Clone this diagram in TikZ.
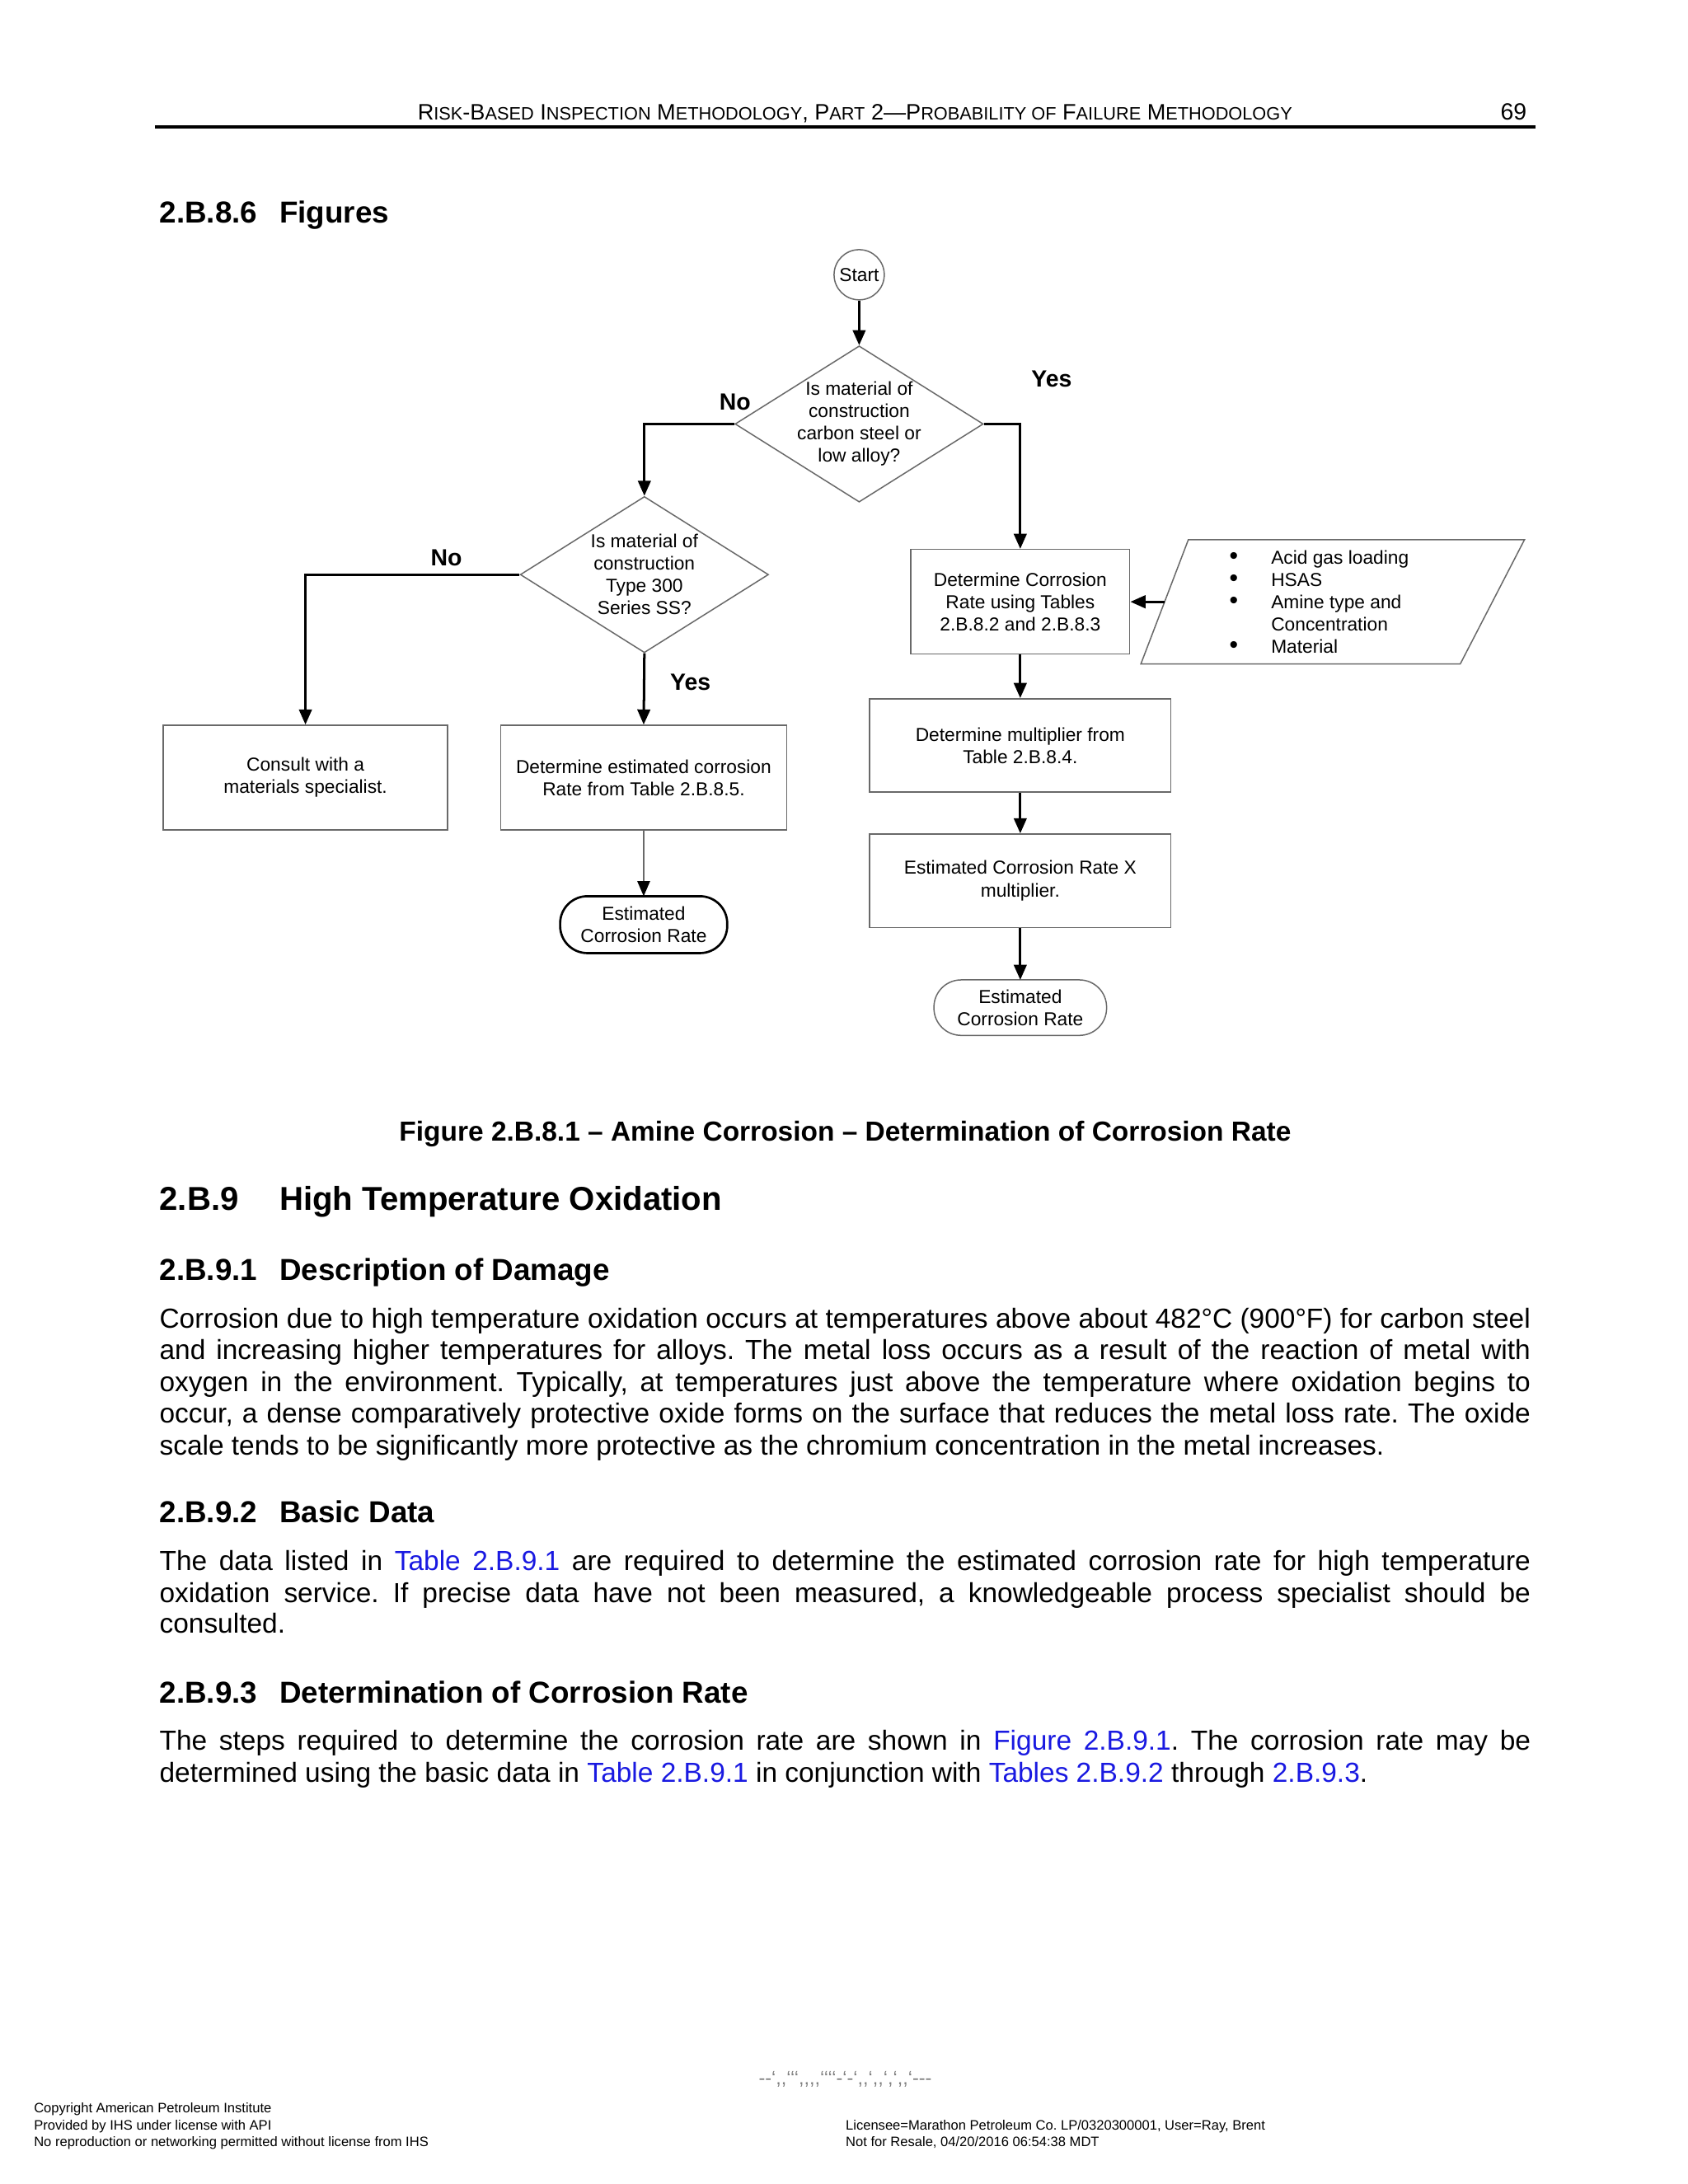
\documentclass[tikz,border=0pt]{standalone}
\usepackage{fontspec}
\setmainfont{Liberation Sans}
\usetikzlibrary{shapes.geometric,arrows.meta}
\newlength\pu \setlength\pu{0.505785pt}
\definecolor{linkblue}{RGB}{25,25,225}
\definecolor{boxgray}{RGB}{105,105,105}
\newcommand\SC[2]{#1{\fontsize{6.5}{7}\selectfont #2}}
\newcommand\lk[1]{\textcolor{linkblue}{#1}}
\newcommand\bul{\makebox[30\pu][l]{\fontsize{9}{8}\selectfont\textbullet}}
\frenchspacing
\tikzset{
  fc/.style={font=\fontsize{6.8}{8.1}\selectfont, align=center},
  box/.style={draw=boxgray, line width=0.45pt, rectangle, inner sep=0pt, fc},
  dia/.style={draw=boxgray, line width=0.45pt, diamond, inner sep=0pt},
  term/.style={rectangle, inner sep=0pt, fc},
  arr/.style={line width=0.9pt, -{Triangle[length=5.5pt,width=4.6pt]}},
  thinarr/.style={draw=boxgray, line width=0.45pt, -{Triangle[length=5.5pt,width=4.6pt,color=black]}},
  lbl/.style={font=\fontsize{8.5}{10}\selectfont\bfseries, inner sep=0pt},
  txt/.style={font=\fontsize{10}{11.5}\selectfont, inner sep=0pt, anchor=base west},
  hd/.style={font=\fontsize{11}{13}\selectfont\bfseries, inner sep=0pt, anchor=base west},
  foot/.style={font=\fontsize{4.95}{6}\selectfont, inner sep=0pt, anchor=base west},
}
\begin{document}
\begin{tikzpicture}[x=0.505785pt,y=-0.505785pt]
\useasboundingbox (0,0) rectangle (1210,1566);
\fill[white] (0,0) rectangle (1210,1566);

% header
\node[anchor=base, inner sep=0pt, font=\fontsize{8.1}{10}\selectfont] (hdr) at (613,86)
  {\SC{R}{ISK}-\SC{B}{ASED} \SC{I}{NSPECTION} \SC{M}{ETHODOLOGY}, \SC{P}{ART} 2—\SC{P}{ROBABILITY OF} \SC{F}{AILURE} \SC{M}{ETHODOLOGY}};
\node[anchor=base east, inner sep=0pt, font=\fontsize{8.5}{10}\selectfont] (pgno) at (1095,86) {69};
\draw[line width=1pt] (111,91) -- (1101,91);

\node[hd] (h286) at (114,160) {\makebox[86\pu][l]{2.B.8.6}Figures};

% flowchart
\node[circle, draw=boxgray, line width=0.45pt, minimum size=36\pu, inner sep=0pt, fc] (start) at (616,197) {Start};
\node[dia, minimum width=178\pu, minimum height=112\pu,
  label={[fc]center:{Is material of\\construction\\carbon steel or\\low alloy?}}] (d1) at (616,304) {};
\node[dia, minimum width=178\pu, minimum height=112\pu,
  label={[fc]center:{Is material of\\construction\\Type 300\\Series SS?}}] (d2) at (462,412) {};
\node[box, minimum width=204\pu, minimum height=75\pu] (consult) at (219,557.5) {Consult with a\\materials specialist.};
\node[box, minimum width=205\pu, minimum height=75\pu] (est) at (461.5,557.5) {Determine estimated corrosion\\Rate from Table 2.B.8.5.};
\node[term, minimum width=119\pu, minimum height=40\pu] (t1) at (461.5,663) {Estimated\\Corrosion Rate};
\draw[line width=0.8pt, rounded corners=19.5\pu] (t1.south west) rectangle (t1.north east);
\node[box, minimum width=157\pu, minimum height=75\pu] (dcr) at (731.5,431.5) {Determine Corrosion\\Rate using Tables\\2.B.8.2 and 2.B.8.3};
\node[box, minimum width=216\pu, minimum height=67\pu] (mult) at (731.5,534.5) {Determine multiplier from\\Table 2.B.8.4.};
\node[box, minimum width=216\pu, minimum height=67\pu] (ecrx) at (731.5,631.5) {Estimated Corrosion Rate X\\multiplier.};
\node[term, minimum width=123\pu, minimum height=39\pu] (t2) at (731.5,722.5) {Estimated\\Corrosion Rate};
\draw[draw=boxgray, line width=0.45pt, rounded corners=19.5\pu] (t2.south west) rectangle (t2.north east);

% input parallelogram
\coordinate (pTL) at (852,387);
\coordinate (pTR) at (1093,387);
\coordinate (pBR) at (1047,476);
\coordinate (pBL) at (818,476);
\coordinate (inpL) at (835,431.5);
\draw[draw=boxgray, line width=0.45pt] (pTL) -- (pTR) -- (pBR) -- (pBL) -- cycle;
\node[fc, align=left, anchor=west, inner sep=0pt] (inp) at (881,431.5)
  {\bul Acid gas loading\\
   \bul HSAS\\
   \bul Amine type and\\
   \makebox[30\pu][l]{}Concentration\\
   \bul Material};

% connectors
\draw[arr] (start) -- (d1);
\draw[arr] (d1.west) -| (d2.north);
\draw[arr] (d1.east) -| (dcr.north);
\draw[arr] (d2.west) -| (consult.north);
\draw[arr] (d2.south) -- (est.north);
\draw[thinarr] (est.south) -- (t1.north);
\draw[arr] (dcr.south) -- (mult.north);
\draw[arr] (mult.south) -- (ecrx.north);
\draw[arr] (ecrx.south) -- (t2.north);
\draw[arr] (inpL) -- (dcr.east |- inpL);

\node[lbl] (no1) at (527,288) {No};
\node[lbl] (yes1) at (754,272) {Yes};
\node[lbl] (no2) at (320,400) {No};
\node[lbl] (yes2) at (495,489) {Yes};

% caption
\node[anchor=base, inner sep=0pt, font=\fontsize{10}{12}\selectfont\bfseries] (cap) at (606,818)
  {Figure 2.B.8.1 – Amine Corrosion – Determination of Corrosion Rate};

% section 2.B.9
\node[hd, font=\fontsize{12}{14}\selectfont\bfseries] (h29) at (114,868) {\makebox[86\pu][l]{2.B.9}High Temperature Oxidation};
\node[hd] (h291) at (114,918) {\makebox[86\pu][l]{2.B.9.1}Description of Damage};
\node[txt] (p1a) at (114,952) {\makebox[983\pu][s]{Corrosion due to high temperature oxidation occurs at temperatures above about 482°C (900°F) for carbon steel}};
\node[txt] (p1b) at (114,975) {\makebox[983\pu][s]{and increasing higher temperatures for alloys. The metal loss occurs as a result of the reaction of metal with}};
\node[txt] (p1c) at (114,998) {\makebox[983\pu][s]{oxygen in the environment. Typically, at temperatures just above the temperature where oxidation begins to}};
\node[txt] (p1d) at (114,1020) {\makebox[983\pu][s]{occur, a dense comparatively protective oxide forms on the surface that reduces the metal loss rate. The oxide}};
\node[txt] (p1e) at (114,1043) {scale tends to be significantly more protective as the chromium concentration in the metal increases.};

\node[hd] (h292) at (114,1092) {\makebox[86\pu][l]{2.B.9.2}Basic Data};
\node[txt] (p2a) at (114,1126) {\makebox[983\pu][s]{The data listed in \lk{Table 2.B.9.1} are required to determine the estimated corrosion rate for high temperature}};
\node[txt] (p2b) at (114,1149) {\makebox[983\pu][s]{oxidation service. If precise data have not been measured, a knowledgeable process specialist should be}};
\node[txt] (p2c) at (114,1171) {consulted.};

\node[hd] (h293) at (114,1221) {\makebox[86\pu][l]{2.B.9.3}Determination of Corrosion Rate};
\node[txt] (p3a) at (114,1255) {\makebox[983\pu][s]{The steps required to determine the corrosion rate are shown in \lk{Figure 2.B.9.1}. The corrosion rate may be}};
\node[txt] (p3b) at (114,1278) {determined using the basic data in \lk{Table 2.B.9.1} in conjunction with \lk{Tables 2.B.9.2} through \lk{2.B.9.3}.};

% footer
\node[anchor=base, inner sep=0pt, font=\fontsize{7}{8}\selectfont, text=gray] (wm) at (606,1495)
  {{-}{-}‘{,}{,}‘‘‘{,}{,}{,}{,}‘‘‘‘{-}‘{-}‘{,}{,}‘{,}{,}‘{,}‘{,}{,}‘{-}{-}{-}};
\node[foot] (f1) at (24,1515) {Copyright American Petroleum Institute};
\node[foot] (f2) at (24,1527) {Provided by IHS under license with API};
\node[foot] (f3) at (24,1539) {No reproduction or networking permitted without license from IHS};
\node[foot] (f4) at (606,1527) {Licensee=Marathon Petroleum Co. LP/0320300001, User=Ray, Brent};
\node[foot] (f5) at (606,1539) {Not for Resale, 04/20/2016 06:54:38 MDT};
\end{tikzpicture}
\end{document}
